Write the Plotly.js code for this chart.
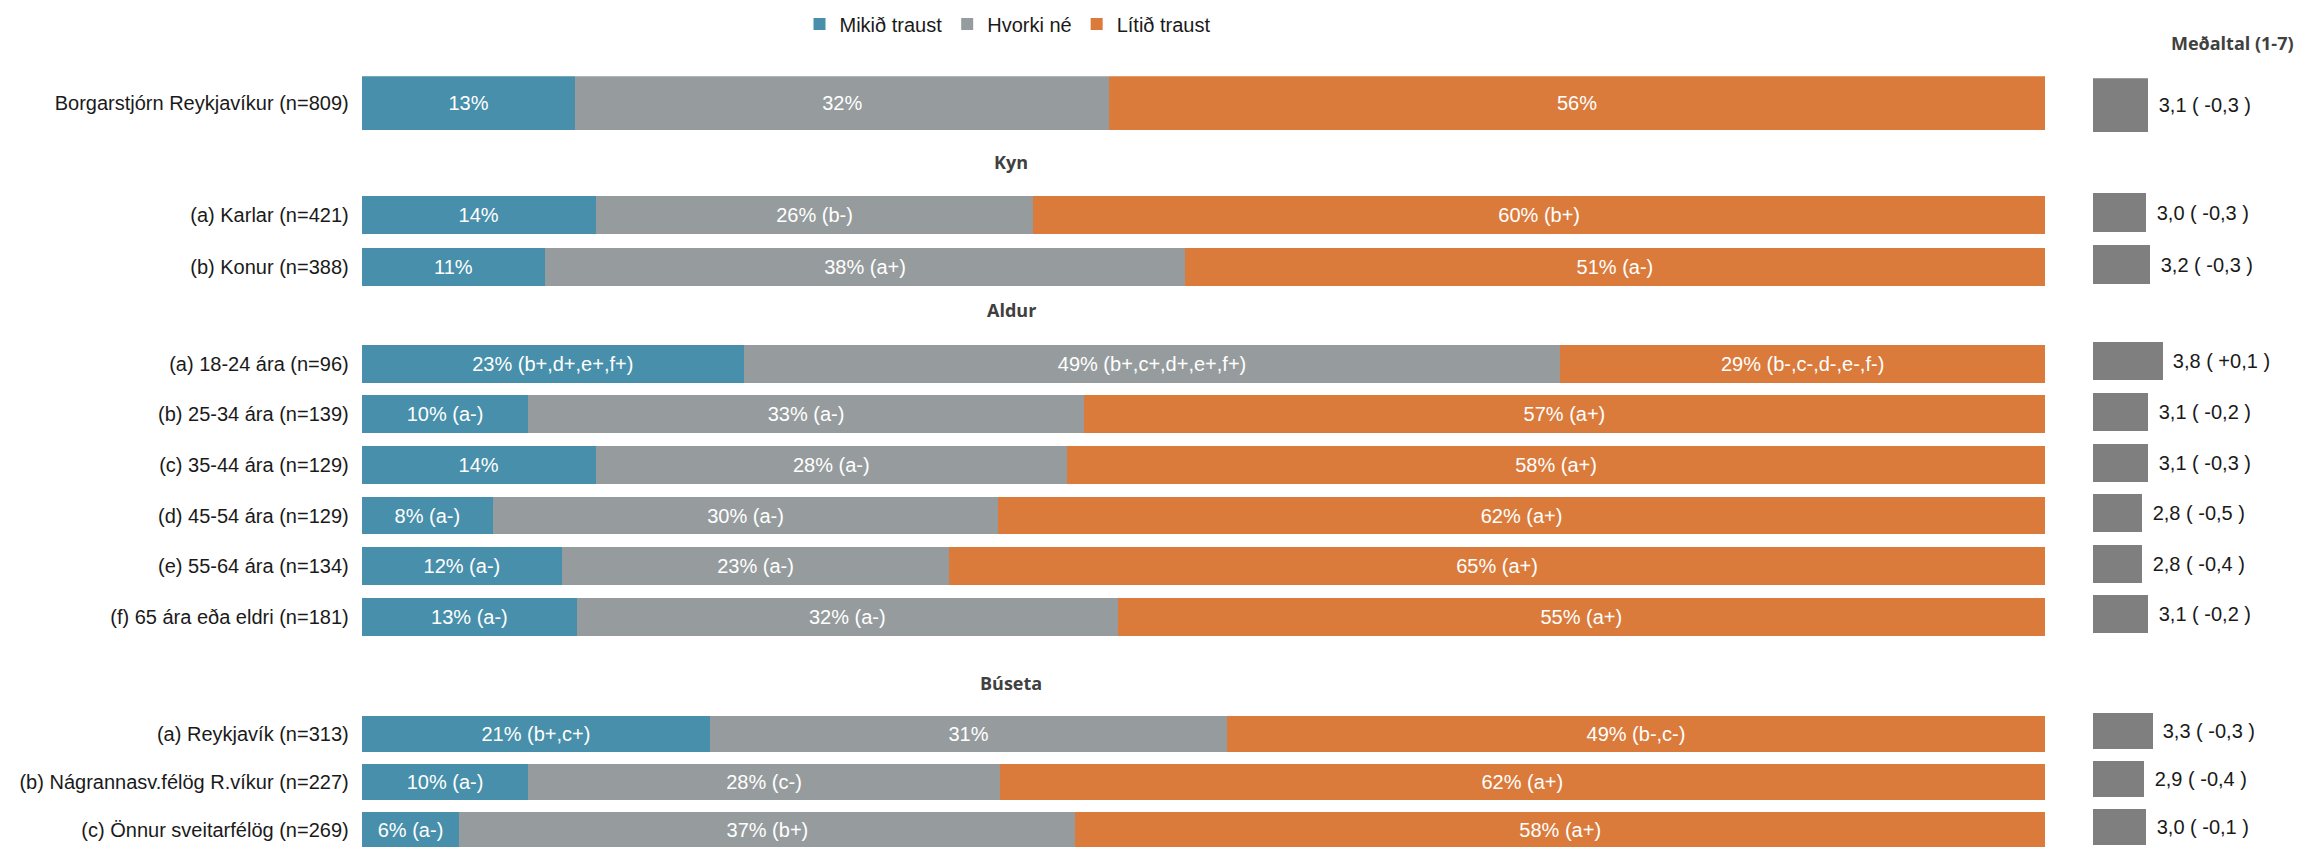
<!DOCTYPE html>
<html>
<head>
<meta charset="utf-8">
<script src="https://cdn.plot.ly/plotly-3.0.1.min.js"></script>
<style>html,body{margin:0;padding:0;background:#fff}</style>
</head>
<body>
<div id="chart" style="width:2300px;height:847px"></div>
<script>
// ---------- DATA ----------
const categories = [
  'Borgarstjórn Reykjavíkur (n=809)',
  '(a) Karlar (n=421)',
  '(b) Konur (n=388)',
  '(a) 18-24 ára (n=96)',
  '(b) 25-34 ára (n=139)',
  '(c) 35-44 ára (n=129)',
  '(d) 45-54 ára (n=129)',
  '(e) 55-64 ára (n=134)',
  '(f) 65 ára eða eldri (n=181)',
  '(a) Reykjavík (n=313)',
  '(b) Nágrannasv.félög R.víkur (n=227)',
  '(c) Önnur sveitarfélög (n=269)'
];
const sectionOf = [0, 1, 1, 2, 2, 2, 2, 2, 2, 3, 3, 3];
const sectionTitles = ['', 'Kyn', 'Aldur', 'Búseta'];
const seriesNames = ['Mikið traust', 'Hvorki né', 'Lítið traust'];

const mikid  = [12.7, 13.9, 10.9, 22.7,  9.9, 13.9,  7.8, 11.9, 12.8, 20.7,  9.9,  5.8];
const hvorki = [31.7, 26.0, 38.0, 48.5, 33.0, 28.0, 30.0, 23.0, 32.1, 30.7, 28.0, 36.6];
const litid  = [55.6, 60.1, 51.1, 28.8, 57.1, 58.1, 62.2, 65.1, 55.1, 48.6, 62.1, 57.6];

const mikidLabels  = ['13%', '14%', '11%', '23% (b+,d+,e+,f+)', '10% (a-)', '14%', '8% (a-)', '12% (a-)', '13% (a-)', '21% (b+,c+)', '10% (a-)', '6% (a-)'];
const hvorkiLabels = ['32%', '26% (b-)', '38% (a+)', '49% (b+,c+,d+,e+,f+)', '33% (a-)', '28% (a-)', '30% (a-)', '23% (a-)', '32% (a-)', '31%', '28% (c-)', '37% (b+)'];
const litidLabels  = ['56%', '60% (b+)', '51% (a-)', '29% (b-,c-,d-,e-,f-)', '57% (a+)', '58% (a+)', '62% (a+)', '65% (a+)', '55% (a+)', '49% (b-,c-)', '62% (a+)', '58% (a+)'];

const meanValues = [3.1, 3.0, 3.2, 3.8, 3.1, 3.1, 2.8, 2.8, 3.1, 3.3, 2.9, 3.0];
const meanDiff   = [-0.3, -0.3, -0.3, 0.1, -0.2, -0.3, -0.5, -0.4, -0.2, -0.3, -0.4, -0.1];
const meanTitle = 'Meðaltal (1-7)';

// ---------- STYLE ----------
const W = 2300, H = 847;
const colors = ['#478FAA', '#969C9D', '#DA7B3C'];
const meanColor = '#7F7F7F';
const FONT = 'Liberation Sans, Arial, sans-serif';
const HFONT = 'Open Sans, sans-serif';

// section geometry in px: [top, bottom] of full category band, bargap
const mainGeom = [
  {top: 76.3, bottom: 130.3, gap: 0.0},
  {top: 189.3, bottom: 293.3, gap: 0.27},
  {top: 338.5, bottom: 642.0, gap: 0.253},
  {top: 710.0, bottom: 854.0, gap: 0.244}
];
const meanGeom = [
  {top: 78.3, bottom: 132.3, gap: 0.0},
  {top: 186.5, bottom: 290.5, gap: 0.237},
  {top: 336.1, bottom: 639.6, gap: 0.25},
  {top: 706.8, bottom: 850.8, gap: 0.25}
];
const headerPos = [null, {x: 1011, y: 162.5}, {x: 1011, y: 310}, {x: 1011, y: 683}];

function fmt(v) { return v.toFixed(1).replace('.', ','); }
const meanLabels = meanValues.map((v, i) =>
  '\u00a0\u200a' + fmt(v) + ' ( ' + (meanDiff[i] > 0 ? '+' : '') + fmt(meanDiff[i]) + ' )');

function yAxisFor(geom, cats, showLabels, anchor) {
  const n = cats.length;
  const unitsPerPx = n / (geom.bottom - geom.top);
  const botPx = Math.min(geom.bottom, H);
  const rangeBottom = -0.5 + (botPx - geom.top) * unitsPerPx;
  return {
    domain: [1 - botPx / H, 1 - geom.top / H],
    type: 'category',
    categoryorder: 'array',
    categoryarray: cats,
    range: [rangeBottom, -0.5],
    autorange: false,
    showgrid: false, zeroline: false, showline: false,
    ticks: '',
    showticklabels: showLabels,
    ticklabelstandoff: 12,
    tickfont: {family: FONT, size: 20, color: '#1a1a1a'},
    anchor: anchor,
    fixedrange: true
  };
}

const traces = [];
const layout = {
  width: W, height: H,
  margin: {l: 0, r: 0, t: 0, b: 0},
  paper_bgcolor: '#ffffff',
  plot_bgcolor: 'rgba(0,0,0,0)',
  barmode: 'stack',
  showlegend: true,
  legend: {
    orientation: 'h',
    x: 799.5 / W, xanchor: 'left',
    y: 1 - 24 / H, yanchor: 'middle',
    font: {family: FONT, size: 20, color: '#1a1a1a'},
    bgcolor: 'rgba(0,0,0,0)', borderwidth: 0,
    traceorder: 'normal'
  },
  xaxis: {domain: [361.7 / W, 2045 / W], range: [0, 100], visible: false, anchor: 'y', fixedrange: true},
  xaxis2: {domain: [2093 / W, 1], range: [0.34, 0.34 + 207 / 20.1], visible: false, anchor: 'y5', fixedrange: true},
  annotations: [],
  font: {family: FONT}
};

const seriesVals = [mikid, hvorki, litid];
const seriesLabels = [mikidLabels, hvorkiLabels, litidLabels];

for (let s = 0; s < 4; s++) {
  const idx = categories.map((c, i) => i).filter(i => sectionOf[i] === s);
  const cats = idx.map(i => categories[i]);
  const yName = s === 0 ? 'y' : 'y' + (s + 1);
  const yKey = s === 0 ? 'yaxis' : 'yaxis' + (s + 1);
  const myName = 'y' + (s + 5);
  const myKey = 'yaxis' + (s + 5);
  layout[yKey] = yAxisFor(mainGeom[s], cats, true, 'x');
  layout[myKey] = yAxisFor(meanGeom[s], cats, false, 'x2');

  for (let k = 0; k < 3; k++) {
    traces.push({
      type: 'bar', orientation: 'h',
      name: seriesNames[k],
      legendgroup: seriesNames[k],
      showlegend: s === 0,
      x: idx.map(i => seriesVals[k][i]),
      y: cats,
      xaxis: 'x', yaxis: yName,
      marker: {color: colors[k], line: {width: 0}},
      width: 1 - mainGeom[s].gap,
      text: idx.map(i => seriesLabels[k][i]),
      textposition: 'inside',
      insidetextanchor: 'middle',
      constraintext: 'none',
      textfont: {family: FONT, size: 20, color: '#ffffff'},
      hoverinfo: 'skip'
    });
  }
  traces.push({
    type: 'bar', orientation: 'h',
    name: meanTitle,
    showlegend: false,
    x: idx.map(i => meanValues[i]),
    y: cats,
    xaxis: 'x2', yaxis: myName,
    marker: {color: meanColor, line: {width: 0}},
    width: 1 - meanGeom[s].gap,
    text: idx.map(i => meanLabels[i]),
    textposition: 'outside',
    constraintext: 'none',
    cliponaxis: false,
    textfont: {family: FONT, size: 20, color: '#1a1a1a'},
    hoverinfo: 'skip'
  });

  if (headerPos[s]) {
    layout.annotations.push({
      xref: 'paper', yref: 'paper',
      x: headerPos[s].x / W, y: 1 - headerPos[s].y / H,
      xanchor: 'center', yanchor: 'middle',
      text: sectionTitles[s], showarrow: false,
      font: {family: HFONT, size: 18, color: '#404040', weight: 700}
    });
  }
}
layout.annotations.push({
  xref: 'paper', yref: 'paper',
  x: 2232 / W, y: 1 - 43 / H,
  xanchor: 'center', yanchor: 'middle',
  text: meanTitle, showarrow: false,
  font: {family: HFONT, size: 18, color: '#404040', weight: 700}
});

Plotly.newPlot('chart', traces, layout, {staticPlot: true, displayModeBar: false});
</script>
</body>
</html>
